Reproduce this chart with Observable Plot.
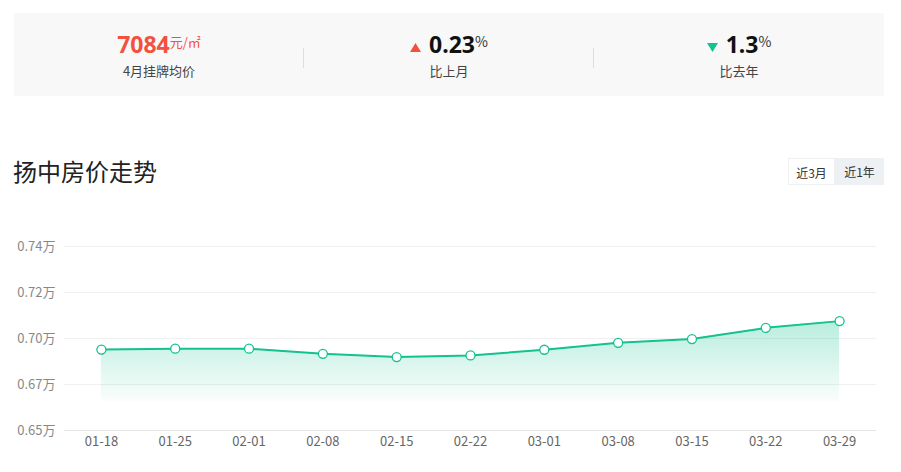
<!DOCTYPE html>
<html><head><meta charset="utf-8">
<script src="https://cdn.jsdelivr.net/npm/d3@7"></script>
<script src="https://cdn.jsdelivr.net/npm/@observablehq/plot@0.6"></script>
<style>
html,body{margin:0;padding:0;background:#fff;width:901px;height:472px;overflow:hidden;font-family:"Noto Sans CJK SC","Noto Sans",sans-serif;}
#panel{position:absolute;left:14px;top:13px;width:870px;height:83px;background:#f8f8f8;}
.cell{position:absolute;top:0;width:290px;height:83px;text-align:center;}
.v{position:absolute;left:0;right:0;top:19px;line-height:24px;height:24px;white-space:nowrap;}
.lab{position:absolute;left:0;right:0;top:49px;font-size:13px;line-height:17px;color:#444;}
.sep{position:absolute;top:35px;width:1px;height:20px;background:#ddd;}
#title{position:absolute;left:13px;top:154px;font-size:24px;line-height:34px;color:#222;}
.btn{position:absolute;top:158px;height:27px;line-height:27px;font-size:12px;color:#333;text-align:center;box-sizing:border-box;}
#chart{position:absolute;left:0;top:200px;}
</style></head>
<body>
<div id="panel"></div>
<div id="title">扬中房价走势</div>
<div class="btn" style="left:788px;width:47px;background:#fff;border:1px solid #eef0f2;">近3月</div>
<div class="btn" style="left:835px;width:49px;background:#eef1f4;">近1年</div>
<div id="chart"></div>
<script>
const dates = ["01-18","01-25","02-01","02-08","02-15","02-22","03-01","03-08","03-15","03-22","03-29"];
const prices = [6896, 6900, 6900, 6875, 6859, 6867, 6895, 6929, 6947, 7002, 7035];
const yTicks = [6500, 6725, 6950, 7175, 7400];
const yTickLabels = ["0.65万","0.67万","0.70万","0.72万","0.74万"];
const areaBase = 6640;
const headline = [
  {value:"7084", unit:"元/㎡", label:"4月挂牌均价", arrow:"", color:"#f2513f"},
  {value:"0.23", unit:"%", label:"比上月", arrow:"up", color:"#111"},
  {value:"1.3", unit:"%", label:"比去年", arrow:"down", color:"#111"}
];

const panel = document.getElementById("panel");
headline.forEach((h, i) => {
  const c = document.createElement("div");
  c.className = "cell";
  c.style.left = (i * 290) + "px";
  let arrow = "";
  if (h.arrow === "up") arrow = '<svg width="11" height="9" style="margin-right:8px;vertical-align:1px"><polygon points="5.5,0 11,9 0,9" fill="#f2513f"/></svg>';
  if (h.arrow === "down") arrow = '<svg width="11" height="9" style="margin-right:8px;vertical-align:1px"><polygon points="0,0 11,0 5.5,9" fill="#13c28e"/></svg>';
  const unitSize = h.arrow ? 14 : 13;
  c.innerHTML = `<div class="v">${arrow}<span style="font-size:23px;line-height:24px;font-weight:bold;color:${h.color};font-family:'Noto Sans','Noto Sans CJK SC',sans-serif">${h.value}</span><span style="font-size:${unitSize}px;line-height:14px;color:${h.color === '#111' ? '#333' : h.color};vertical-align:6px">${h.unit}</span></div><div class="lab">${h.label}</div>`;
  panel.appendChild(c);
  if (i > 0) {
    const s = document.createElement("div");
    s.className = "sep";
    s.style.left = (i * 290 - 1) + "px";
    panel.appendChild(s);
  }
});

const data = dates.map((d, i) => ({date: d, value: prices[i]}));
const green = "#13c28e";

const chart = Plot.plot({
  width: 901,
  height: 260,
  marginTop: 46,
  marginBottom: 30,
  marginLeft: 64,
  marginRight: 25,
  style: {fontFamily: "'Noto Sans CJK SC','Noto Sans',sans-serif", fontSize: "13px", background: "transparent"},
  x: {type: "point", domain: dates, padding: 0.5, round: false, label: null},
  y: {domain: [6500, 7400], label: null},
  marks: [
    () => {
      const defs = d3.create("svg:defs");
      const g = defs.append("linearGradient").attr("id", "areaGrad").attr("x1", 0).attr("y1", 0).attr("x2", 0).attr("y2", 1);
      g.append("stop").attr("offset", "0%").attr("stop-color", green).attr("stop-opacity", 0.3);
      g.append("stop").attr("offset", "100%").attr("stop-color", green).attr("stop-opacity", 0.02);
      return defs.node();
    },
    Plot.ruleY(yTicks, {stroke: d => d === 6500 ? "#e6e6e6" : "#f0f0f0", strokeWidth: 1}),
    Plot.areaY(data, {x: "date", y1: areaBase, y2: "value", fill: "url(#areaGrad)"}),
    Plot.lineY(data, {x: "date", y: "value", stroke: green, strokeWidth: 2}),
    Plot.dot(data, {x: "date", y: "value", r: 4.5, fill: "#fff", stroke: green, strokeWidth: 1.3}),
    Plot.axisY({ticks: yTicks, tickFormat: d => yTickLabels[yTicks.indexOf(d)], tickSize: 0, tickPadding: 9, fill: "#888", fontSize: 13, label: null}),
    Plot.axisX({tickSize: 0, tickPadding: 6, fill: "#666", fontSize: 13, label: null})
  ]
});
document.getElementById("chart").appendChild(chart);
</script>
</body></html>
